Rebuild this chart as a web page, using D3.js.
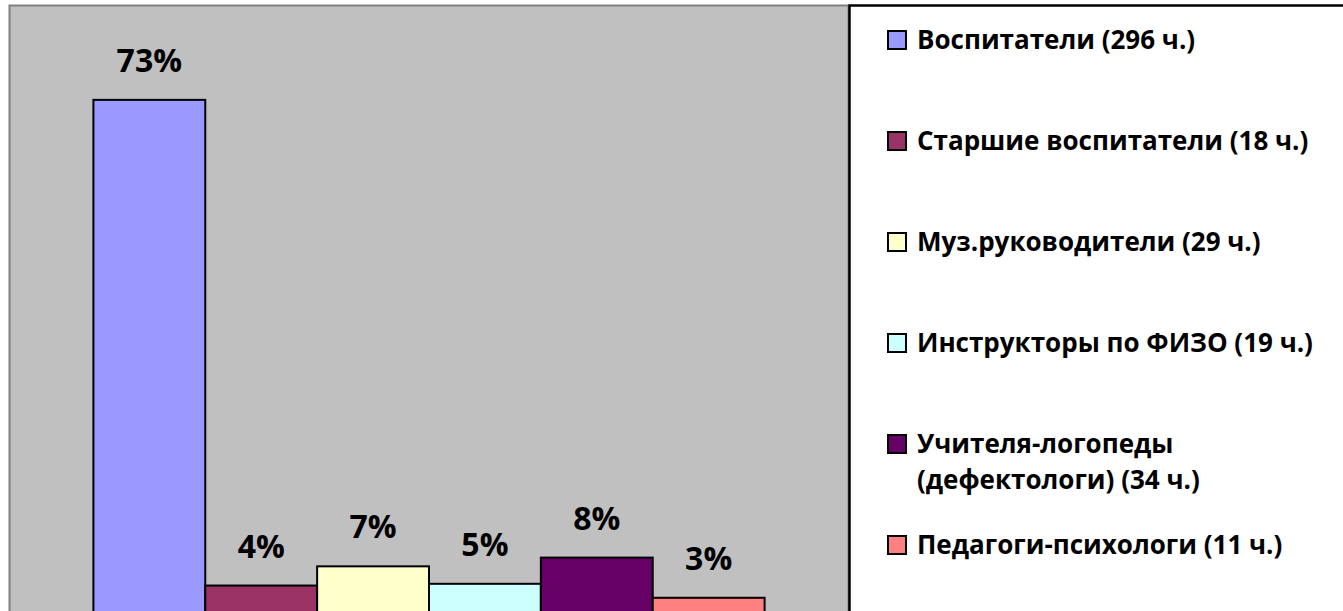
<!DOCTYPE html>
<meta charset="utf-8">
<style>

    body {
        margin: 0;
        background: #fff;
    }

    text {
        font-family: "Open Sans", "Noto Sans", sans-serif;
        font-weight: bold;
        fill: #000;
    }

    .value-label {
        font-size: 32px;
    }

    .legend text {
        font-size: 26px;
    }

</style>
<svg width="1343" height="611"></svg>
<script src="https://d3js.org/d3.v7.min.js"></script>
<script>
    var names = ["Воспитатели", "Старшие воспитатели", "Муз.руководители",
        "Инструкторы по ФИЗО", "Учителя-логопеды (дефектологи)", "Педагоги-психологи"];
    var counts = [296, 18, 29, 19, 34, 11];
    var colors = ["#9999ff", "#993366", "#ffffcc", "#ccffff", "#660066", "#ff8080"];

    var total = d3.sum(counts);
    var shares = counts.map(function (c) { return c / total; });

    var svg = d3.select("svg"),
        width = +svg.attr("width"),
        height = +svg.attr("height");

    var plot = {left: 9.5, right: 848.5, top: 5.5, bottom: 617};

    var x = d3.scaleBand()
        .domain(d3.range(names.length))
        .range([plot.left, plot.right])
        .paddingInner(0)
        .paddingOuter(0.75);

    var y = d3.scaleLinear()
        .domain([0, 0.86])
        .range([plot.bottom, plot.top]);

    var fmt = d3.format(".0%");

    // plot area
    svg.append("rect")
        .attr("x", plot.left)
        .attr("y", plot.top)
        .attr("width", plot.right - plot.left)
        .attr("height", plot.bottom - plot.top + 10)
        .style("fill", "#c0c0c0")
        .style("stroke", "#808080")
        .style("stroke-width", 2);

    svg.append("g")
        .selectAll("rect")
        .data(shares)
        .enter().append("rect")
        .attr("x", function (d, i) { return x(i); })
        .attr("y", function (d) { return y(d); })
        .attr("width", x.bandwidth())
        .attr("height", function (d) { return y(0) - y(d); })
        .style("fill", function (d, i) { return colors[i]; })
        .style("stroke", "#000")
        .style("stroke-width", 2);

    svg.append("g")
        .selectAll("text")
        .data(shares)
        .enter().append("text")
        .attr("class", "value-label")
        .attr("x", function (d, i) { return x(i) + x.bandwidth() / 2; })
        .attr("y", function (d) { return y(d) - 28; })
        .attr("text-anchor", "middle")
        .text(fmt);

    // legend box
    var lx = 849.5;
    svg.append("rect")
        .attr("x", lx)
        .attr("y", plot.top)
        .attr("width", width - lx + 10)
        .attr("height", height)
        .style("fill", "#fff")
        .style("stroke", "#000")
        .style("stroke-width", 2.5);

    var legend = svg.append("g")
        .attr("class", "legend")
        .selectAll("g")
        .data(names)
        .enter().append("g")
        .attr("transform", function (d, i) { return "translate(0," + (40 + i * 101) + ")"; });

    legend.append("rect")
        .attr("x", 888)
        .attr("y", -9)
        .attr("width", 18)
        .attr("height", 18)
        .style("fill", function (d, i) { return colors[i]; })
        .style("stroke", "#000")
        .style("stroke-width", 2);

    legend.append("text")
        .attr("x", 917)
        .attr("dy", "0.36em")
        .text(function (d, i) { return d + " (" + counts[i] + " ч.)"; })
        .each(function () { wrap(d3.select(this), 405, 36); });

    // Splits a label into lines that fit the legend width.
    function wrap(text, maxWidth, lineHeight) {
        var words = text.text().split(" "),
            line = [],
            tx = text.attr("x"),
            dy = text.attr("dy");
        text.text(null);
        var tspan = text.append("tspan").attr("x", tx).attr("dy", dy);
        words.forEach(function (w) {
            line.push(w);
            tspan.text(line.join(" "));
            if (tspan.node().getComputedTextLength() > maxWidth && line.length > 1) {
                line.pop();
                tspan.text(line.join(" "));
                line = [w];
                tspan = text.append("tspan").attr("x", tx).attr("dy", lineHeight).text(w);
            }
        });
    }
</script>
